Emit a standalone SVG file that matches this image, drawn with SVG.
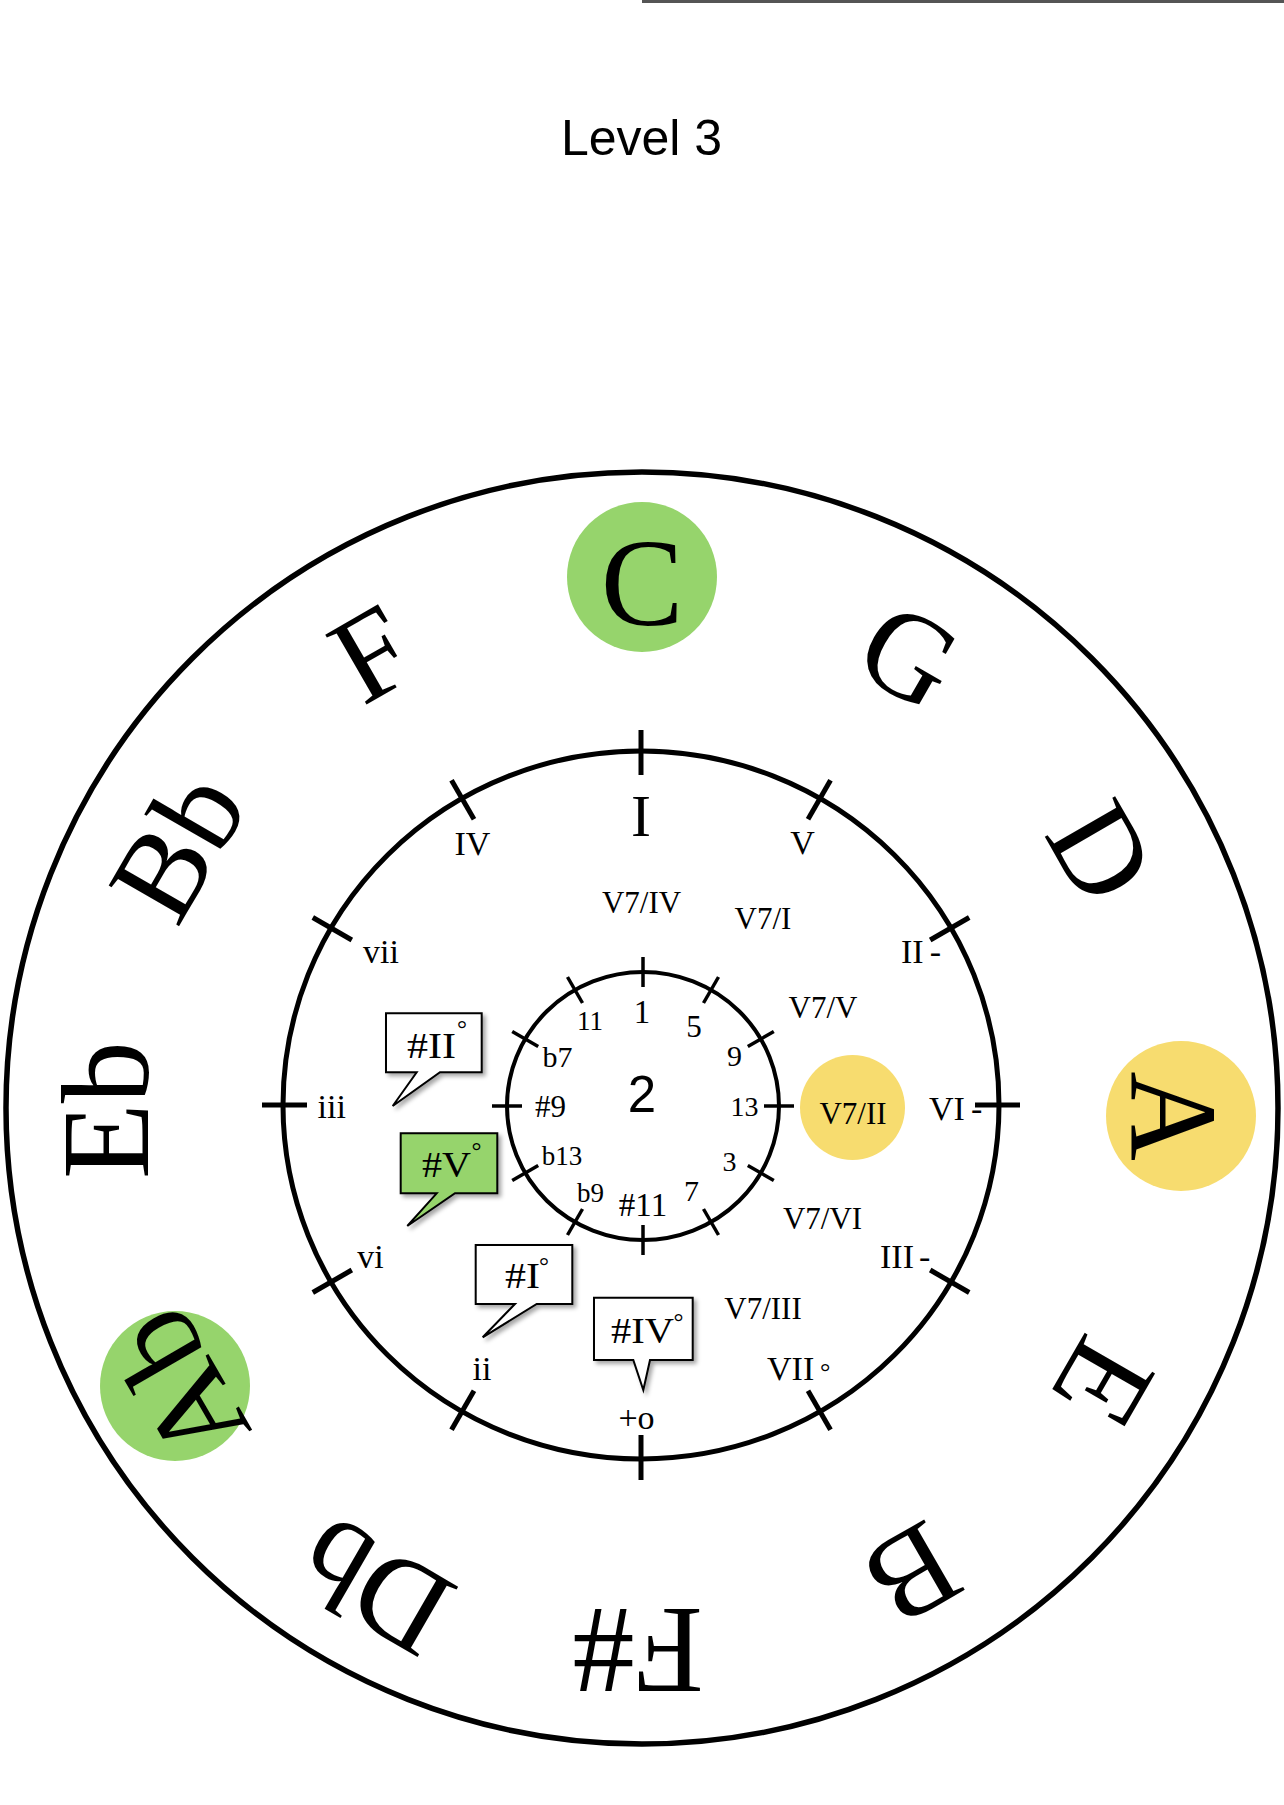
<svg xmlns="http://www.w3.org/2000/svg" width="1284" height="1805" viewBox="0 0 1284 1805">
  <style>
    .ring { fill: none; stroke: #000; }
    .tick { stroke: #000; stroke-linecap: butt; }
    .serif { font-family: "Liberation Serif", "Times New Roman", serif; fill: #000; }
    .key { font-family: "Liberation Serif", "Times New Roman", serif; font-size: 124px; text-anchor: middle; fill: #000; }
    .deg { font-family: "Liberation Serif", "Times New Roman", serif; fill: #000; }
    .mid { font-size: 34px; text-anchor: middle; }
    .sec { font-size: 31px; text-anchor: middle; }
    .inn { text-anchor: middle; }
    .bub { stroke: #000; stroke-width: 2; stroke-linejoin: miter; }
    .green { fill: #96D46C; }
    .yellow { fill: #F7DC6F; }
  </style>
  <defs>
    <filter id="shadow" x="-20%" y="-20%" width="150%" height="160%">
      <feDropShadow dx="3" dy="3" stdDeviation="2" flood-color="#000" flood-opacity="0.35"/>
    </filter>
  </defs>

  <rect x="0" y="0" width="1284" height="1805" fill="#fff"/>
  <line x1="642" y1="1.5" x2="1284" y2="1.5" stroke="#555" stroke-width="3"/>

  <g id="title">
    <text x="641.5" y="155" font-family="'Liberation Sans', Arial, sans-serif" font-size="50" text-anchor="middle" fill="#000">Level 3</text>
  </g>

  <g id="rings">
    <circle class="ring" cx="642" cy="1108" r="636" stroke-width="5.5"/>
    <ellipse class="ring" cx="641" cy="1105" rx="358" ry="354" stroke-width="5"/>
    <ellipse class="ring" cx="643" cy="1106" rx="136" ry="134" stroke-width="4"/>
  </g>

  <g id="highlights">
    <circle id="hl-C" class="green" cx="642" cy="577" r="75"/>
    <circle id="hl-A" class="yellow" cx="1181" cy="1116" r="75"/>
    <circle id="hl-Ab" class="green" cx="175" cy="1386" r="75"/>
    <circle id="hl-V7II" class="yellow" cx="852.5" cy="1107.5" r="52.5"/>
  </g>

  <g id="connectors">
    <g class="tick" stroke-width="5">
      <line x1="641" y1="775" x2="641" y2="730"/>
      <line x1="808" y1="819.2" x2="830.5" y2="780.2"/>
      <line x1="930.2" y1="940" x2="969.2" y2="917.5"/>
      <line x1="975" y1="1105" x2="1020" y2="1105"/>
      <line x1="930.2" y1="1270" x2="969.2" y2="1292.5"/>
      <line x1="808" y1="1390.8" x2="830.5" y2="1429.8"/>
      <line x1="641" y1="1435" x2="641" y2="1480"/>
      <line x1="474" y1="1390.8" x2="451.5" y2="1429.8"/>
      <line x1="351.8" y1="1270" x2="312.8" y2="1292.5"/>
      <line x1="307" y1="1105" x2="262" y2="1105"/>
      <line x1="351.8" y1="940" x2="312.8" y2="917.5"/>
      <line x1="474" y1="819.2" x2="451.5" y2="780.2"/>
    </g>
    <g class="tick" stroke-width="3.5">
      <line x1="643" y1="987" x2="643" y2="957"/>
      <line x1="703.5" y1="1003" x2="718.5" y2="977"/>
      <line x1="747.8" y1="1046.5" x2="773.8" y2="1031.5"/>
      <line x1="764" y1="1106" x2="794" y2="1106"/>
      <line x1="747.8" y1="1165.5" x2="773.8" y2="1180.5"/>
      <line x1="703.5" y1="1209" x2="718.5" y2="1235"/>
      <line x1="643" y1="1225" x2="643" y2="1255"/>
      <line x1="582.5" y1="1209" x2="567.5" y2="1235"/>
      <line x1="538.2" y1="1165.5" x2="512.2" y2="1180.5"/>
      <line x1="522" y1="1106" x2="492" y2="1106"/>
      <line x1="538.2" y1="1046.5" x2="512.2" y2="1031.5"/>
      <line x1="582.5" y1="1003" x2="567.5" y2="977"/>
    </g>
  </g>

  <g id="keys">
    <g id="key-C"><text class="key" transform="translate(642,584) rotate(0)" y="41">C</text></g>
    <g id="key-G"><text class="key" transform="translate(909,656) rotate(30)" y="41">G</text></g>
    <g id="key-D"><text class="key" transform="translate(1101,852) rotate(60)" y="41">D</text></g>
    <g id="key-A"><text class="key" transform="translate(1172,1116) rotate(90)" y="41">A</text></g>
    <g id="key-E"><text class="key" transform="translate(1103,1383) rotate(120)" y="41">E</text></g>
    <g id="key-B"><text class="key" transform="translate(912,1574) rotate(150)" y="41">B</text></g>
    <g id="key-Fs"><text class="key" transform="translate(638,1650) rotate(180)" y="41">F#</text></g>
    <g id="key-Db"><text class="key" transform="translate(375,1586) rotate(210)" y="41">Db</text></g>
    <g id="key-Ab"><text class="key" transform="translate(182,1384) rotate(240)" y="38" font-size="115">Ab</text></g>
    <g id="key-Eb"><text class="key" transform="translate(107,1110) rotate(270)" y="41">Eb</text></g>
    <g id="key-Bb"><text class="key" transform="translate(178,846) rotate(300)" y="41">Bb</text></g>
    <g id="key-F"><text class="key" transform="translate(372,654) rotate(330)" y="41">F</text></g>
  </g>

  <g id="degrees">
    <g id="deg-I"><text class="serif" x="641" y="836" font-size="60" text-anchor="middle">I</text></g>
    <g id="deg-V"><text class="serif mid" x="802.5" y="854">V</text></g>
    <g id="deg-II"><text class="serif" x="901" y="963" font-size="34">II<tspan dx="6">-</tspan></text></g>
    <g id="deg-VI"><text class="serif" x="929" y="1120" font-size="34">VI<tspan dx="6">-</tspan></text></g>
    <g id="deg-III"><text class="serif" x="880" y="1268" font-size="34">III<tspan dx="5">-</tspan></text></g>
    <g id="deg-VII"><text class="serif" x="767" y="1380" font-size="34">VII<tspan x="820" font-size="26">°</tspan></text></g>
    <g id="deg-bottom"><text class="serif mid" x="636.5" y="1429">+o</text></g>
    <g id="deg-ii"><text class="serif mid" x="482" y="1380">ii</text></g>
    <g id="deg-vi"><text class="serif mid" x="370.5" y="1268">vi</text></g>
    <g id="deg-iii"><text class="serif mid" x="331.7" y="1118">iii</text></g>
    <g id="deg-vii"><text class="serif mid" x="381" y="963">vii</text></g>
    <g id="deg-IV"><text class="serif mid" x="472.5" y="855">IV</text></g>
  </g>

  <g id="secondary">
    <g id="sec-V7IV"><text class="serif sec" x="641.5" y="913">V7/IV</text></g>
    <g id="sec-V7I"><text class="serif sec" x="763" y="929">V7/I</text></g>
    <g id="sec-V7V"><text class="serif sec" x="823" y="1018">V7/V</text></g>
    <g id="sec-V7II"><text class="serif sec" x="853" y="1123.5">V7/II</text></g>
    <g id="sec-V7VI"><text class="serif sec" x="822.5" y="1229">V7/VI</text></g>
    <g id="sec-V7III"><text class="serif sec" x="763" y="1319">V7/III</text></g>
  </g>

  <g id="tensions">
    <g id="t-1"><text class="serif inn" x="642" y="1022.7" font-size="33">1</text></g>
    <g id="t-5"><text class="serif inn" x="694" y="1036.7" font-size="31">5</text></g>
    <g id="t-9"><text class="serif inn" x="734.5" y="1066" font-size="30">9</text></g>
    <g id="t-13"><text class="serif inn" x="744.5" y="1116" font-size="28">13</text></g>
    <g id="t-3"><text class="serif inn" x="729.5" y="1170.7" font-size="28">3</text></g>
    <g id="t-7"><text class="serif inn" x="691.5" y="1200.7" font-size="30">7</text></g>
    <g id="t-s11"><text class="serif inn" x="643" y="1216" font-size="33">#11</text></g>
    <g id="t-b9"><text class="serif inn" x="590.5" y="1201.7" font-size="27">b9</text></g>
    <g id="t-b13"><text class="serif inn" x="562" y="1165" font-size="27">b13</text></g>
    <g id="t-s9"><text class="serif inn" x="550.5" y="1117" font-size="31">#9</text></g>
    <g id="t-b7"><text class="serif inn" x="557.5" y="1066.7" font-size="30">b7</text></g>
    <g id="t-11"><text class="serif inn" x="590" y="1030" font-size="27">11</text></g>
    <g id="center-2"><text x="642" y="1111.7" font-family="'Liberation Sans', Arial, sans-serif" font-size="51" text-anchor="middle" fill="#000">2</text></g>
  </g>

  <g id="callouts">
    <g id="bubble-sII">
      <path class="bub" fill="#fff" filter="url(#shadow)" d="M386,1013.3 H481.7 V1072.3 H440 L392.7,1106 L416.7,1072.3 H386 Z"/>
      <text class="serif" x="407" y="1058" font-size="35" textLength="49" lengthAdjust="spacingAndGlyphs">#II</text>
      <text class="deg" x="457" y="1037" font-size="25">°</text>
    </g>
    <g id="bubble-sV">
      <path class="bub green" filter="url(#shadow)" d="M400.7,1133.3 H497.3 V1193.3 H455 L407.3,1226 L436.7,1193.3 H400.7 Z"/>
      <text class="serif" x="422" y="1177" font-size="35" textLength="49" lengthAdjust="spacingAndGlyphs">#V</text>
      <text class="deg" x="471.5" y="1159" font-size="25">°</text>
    </g>
    <g id="bubble-sI">
      <path class="bub" fill="#fff" filter="url(#shadow)" d="M475.7,1245 H572.3 V1304 H536.7 L482.7,1337.3 L515,1304 H475.7 Z"/>
      <text class="serif" x="505" y="1288" font-size="35" textLength="35" lengthAdjust="spacingAndGlyphs">#I</text>
      <text class="deg" x="539" y="1274" font-size="25">°</text>
    </g>
    <g id="bubble-sIV">
      <path class="bub" fill="#fff" filter="url(#shadow)" d="M594,1297.7 H692.7 V1360 H650 L643.3,1390 L633.3,1360 H594 Z"/>
      <text class="serif" x="611" y="1343" font-size="36" textLength="63" lengthAdjust="spacingAndGlyphs">#IV</text>
      <text class="deg" x="673.5" y="1330" font-size="25">°</text>
    </g>
  </g>
</svg>
